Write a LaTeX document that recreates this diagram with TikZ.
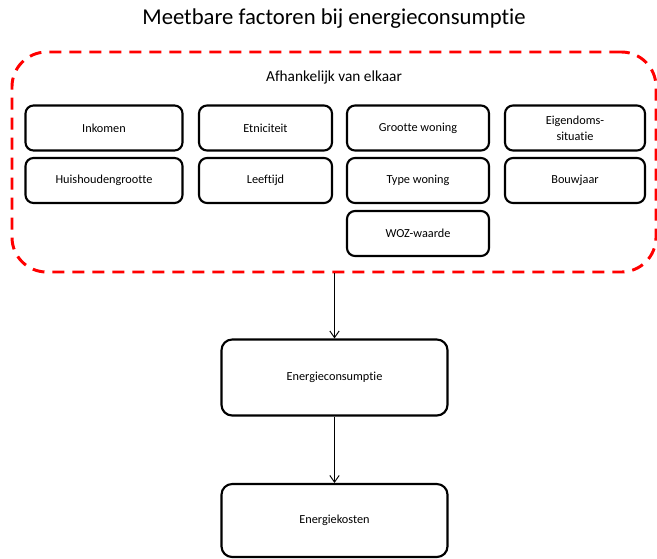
\documentclass[tikz,border=0pt]{standalone}
\usepackage{fontspec}
\setmainfont[Ligatures=NoCommon]{Carlito}
\usetikzlibrary{arrows.meta,positioning}

\begin{document}
\begin{tikzpicture}[
    x=0.75pt, y=-0.75pt,
    factor/.style={draw, line width=1.6pt, rounded corners=6pt, minimum height=33.75pt, align=center, font=\fontsize{9.2}{12}\selectfont, inner sep=1pt},
    result/.style={draw, line width=1.6pt, rounded corners=8pt, minimum width=169.5pt, font=\fontsize{9.2}{12}\selectfont},
    group/.style={draw=red, line width=2.2pt, dash pattern=on 9pt off 6pt, rounded corners=26pt, minimum width=483pt, minimum height=165pt},
    arr/.style={-{Straight Barb[length=5pt, width=7pt]}, line width=0.7pt}
]
\useasboundingbox (0,0) rectangle (657,558);
\node[font=\fontsize{17}{19}\selectfont] (title) at (334,19) {Meetbare factoren bij energieconsumptie};

% groep met onderling afhankelijke factoren
\node[group] (grp) at (334,162) {};
\node[font=\fontsize{11.5}{13}\selectfont] (grplabel) at (334,77) {Afhankelijk van elkaar};

\node[factor, minimum width=117.75pt] (ink) at (104,128) {Inkomen};
\node[factor, minimum width=99.75pt] (etn) at (265.5,128) {Etniciteit};
\node[factor, minimum width=106.5pt] (grw) at (418,128) {Grootte woning};
\node[factor, minimum width=105pt] (eig) at (575,128) {Eigendoms-\\situatie};
\node[factor, minimum width=117.75pt] (hhg) at (104,180.5) {Huishoudengrootte};
\node[factor, minimum width=99.75pt] (lft) at (265.5,180.5) {Leeftijd};
\node[factor, minimum width=106.5pt] (typ) at (418,180.5) {Type woning};
\node[factor, minimum width=105pt] (bwj) at (575,180.5) {Bouwjaar};
\node[factor, minimum width=106.5pt] (woz) at (418,233.5) {WOZ-waarde};

% gevolgen
\node[result, minimum height=57pt] (cons) at (334.5,377.5) {Energieconsumptie};
\node[result, minimum height=54.75pt] (kost) at (334.5,520.5) {Energiekosten};

\draw[arr] (grp.south -| cons.north) -- (cons);
\draw[arr] (cons) -- (kost);
\end{tikzpicture}
\end{document}
